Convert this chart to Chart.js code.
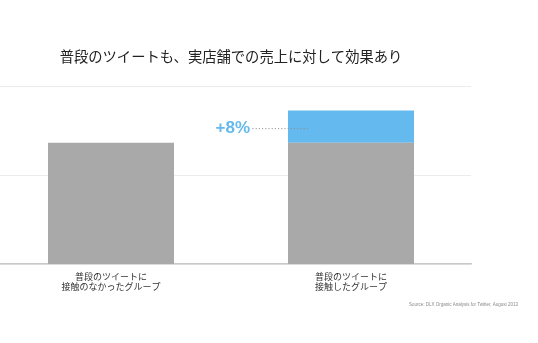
<!DOCTYPE html>
<html>
<head>
<meta charset="utf-8">
<script src="https://cdn.jsdelivr.net/npm/chart.js@4/dist/chart.umd.min.js"></script>
<style>
  html, body { margin: 0; padding: 0; background: #fff; overflow: hidden; }
  #wrap { position: relative; width: 538px; height: 343px; overflow: hidden; }
  #c { position: absolute; left: -9px; top: 0; }
</style>
</head>
<body>
<div id="wrap"><canvas id="c" width="547" height="343"></canvas></div>
<script>
// Store-sales index: group not exposed to everyday tweets = 100
const categories = [
  ['普段のツイートに', '接触のなかったグループ'],
  ['普段のツイートに', '接触したグループ']
];
const baseSales = [100, 100];   // common baseline level
const liftSales = [0, 8];       // extra sales for the exposed group (%)
const yTicks = { min: 70, max: 114, step: 22 };

const titleText = '普段のツイートも、実店舗での売上に対して効果あり';
const sourceText = 'Source: DLX Organic Analysis for Twitter, August 2013';

const GRAY = '#a9a9a9';
const BLUE = '#64b9ee';

// Draws the "+N%" callout with a dotted leader and the source note
const annotations = {
  id: 'annotations',
  afterDatasetsDraw(chart) {
    const ctx = chart.ctx;
    const ys = chart.scales.y;
    const liftMeta = chart.getDatasetMeta(1);
    const idx = liftSales.findIndex(v => v > 0);
    if (idx >= 0) {
      const bar = liftMeta.data[idx];
      const left = bar.x - bar.width / 2;
      const y = ys.getPixelForValue(baseSales[idx] + liftSales[idx] / 2) + 2;
      ctx.save();
      // dotted leader
      ctx.fillStyle = '#8f8f8f';
      const startX = left - 35, endX = left + 21;
      for (let x = startX; x <= endX; x += 3.2) {
        ctx.beginPath();
        ctx.arc(x, y, 0.65, 0, Math.PI * 2);
        ctx.fill();
      }
      // label
      ctx.fillStyle = BLUE;
      ctx.font = 'bold 17px "Liberation Sans", Arial, sans-serif';
      ctx.textAlign = 'right';
      ctx.textBaseline = 'middle';
      ctx.fillText('+' + liftSales[idx] + '%', startX - 3, y);
      ctx.restore();
    }
    // source note
    ctx.save();
    ctx.fillStyle = '#8a8a8a';
    ctx.font = '4.5px "Liberation Sans", Arial, sans-serif';
    ctx.textAlign = 'right';
    ctx.textBaseline = 'middle';
    ctx.fillText(sourceText, chart.width - 20, 305);
    ctx.restore();
  }
};

new Chart(document.getElementById('c'), {
  type: 'bar',
  data: {
    labels: categories,
    datasets: [
      { data: baseSales, backgroundColor: GRAY, borderWidth: 0 },
      { data: liftSales, backgroundColor: BLUE, borderWidth: 0 }
    ]
  },
  options: {
    responsive: false,
    animation: false,
    devicePixelRatio: 1,
    layout: { padding: { left: 0, right: 67, top: 0, bottom: 0 } },
    datasets: { bar: { categoryPercentage: 1, barPercentage: 0.525 } },
    plugins: {
      legend: { display: false },
      tooltip: { enabled: false },
      title: {
        display: true,
        text: titleText,
        fullSize: false,
        color: '#222',
        font: { family: '"Noto Sans CJK JP", sans-serif', size: 14.3, weight: 'normal', lineHeight: 1.2 },
        padding: { top: 48, bottom: 21 }
      }
    },
    scales: {
      x: {
        stacked: true,
        grid: { display: false },
        border: { display: true, color: '#c9c9c9', width: 1.5 },
        ticks: {
          color: '#333',
          padding: -1,
          maxRotation: 0,
          autoSkip: false,
          font: { family: '"Noto Sans CJK JP", sans-serif', size: 9, lineHeight: 1.18 }
        },
        afterFit(scale) { scale.height = 79; }
      },
      y: {
        stacked: true,
        min: yTicks.min,
        max: yTicks.max,
        ticks: { display: false, stepSize: yTicks.step },
        grid: { color: '#ececec', lineWidth: 1, drawTicks: false },
        border: { display: false },
        afterFit(scale) { scale.width = 0; }
      }
    }
  },
  plugins: [annotations]
});
</script>
</body>
</html>
